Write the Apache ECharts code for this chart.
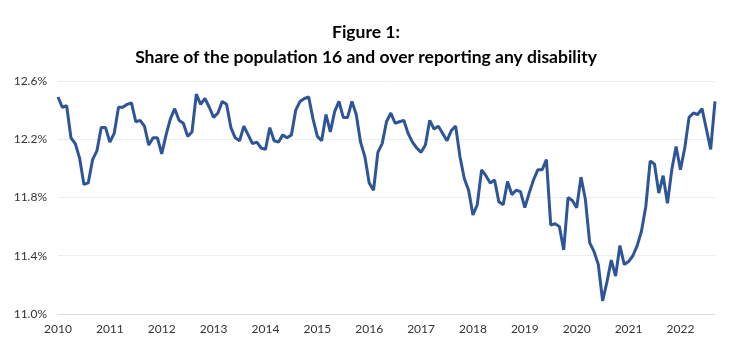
<!DOCTYPE html>
<html>
<head>
<meta charset="utf-8">
<script src="https://cdn.jsdelivr.net/npm/echarts@6/dist/echarts.min.js"></script>
<style>
  html, body { margin: 0; padding: 0; background: #fff; }
  #chart { width: 732px; height: 354px; }
</style>
</head>
<body>
<div id="chart"></div>
<script>
// share of population 16+ reporting any disability, monthly (%)
var v2010 = [12.49, 12.42, 12.43, 12.21, 12.17, 12.07, 11.89, 11.90, 12.06, 12.12, 12.28, 12.28];
var v2011 = [12.18, 12.24, 12.42, 12.42, 12.44, 12.45, 12.32, 12.33, 12.29, 12.16, 12.21, 12.21];
var v2012 = [12.10, 12.23, 12.34, 12.41, 12.33, 12.31, 12.22, 12.25, 12.51, 12.44, 12.48, 12.42];
var v2013 = [12.35, 12.38, 12.46, 12.44, 12.28, 12.21, 12.19, 12.29, 12.23, 12.17, 12.18, 12.14];
var v2014 = [12.13, 12.28, 12.19, 12.18, 12.23, 12.21, 12.23, 12.40, 12.46, 12.48, 12.49, 12.34];
var v2015 = [12.22, 12.19, 12.37, 12.25, 12.39, 12.46, 12.35, 12.35, 12.46, 12.37, 12.18, 12.08];
var v2016 = [11.90, 11.85, 12.11, 12.17, 12.32, 12.38, 12.31, 12.32, 12.33, 12.24, 12.18, 12.14];
var v2017 = [12.11, 12.16, 12.33, 12.27, 12.29, 12.24, 12.19, 12.26, 12.29, 12.08, 11.93, 11.85];
var v2018 = [11.68, 11.75, 11.99, 11.95, 11.90, 11.92, 11.77, 11.75, 11.91, 11.82, 11.85, 11.84];
var v2019 = [11.73, 11.83, 11.92, 11.99, 11.99, 12.06, 11.61, 11.62, 11.60, 11.44, 11.80, 11.78];
var v2020 = [11.73, 11.94, 11.79, 11.49, 11.43, 11.34, 11.09, 11.22, 11.37, 11.26, 11.47, 11.34];
var v2021 = [11.36, 11.40, 11.47, 11.57, 11.74, 12.05, 12.03, 11.83, 11.95, 11.76, 11.99, 12.15];
var v2022 = [11.99, 12.14, 12.35, 12.38, 12.37, 12.41, 12.27, 12.13, 12.46];

var years = [2010, 2011, 2012, 2013, 2014, 2015, 2016, 2017, 2018, 2019, 2020, 2021, 2022];
var yTicks = [11.0, 11.4, 11.8, 12.2, 12.6];

var byYear = [v2010, v2011, v2012, v2013, v2014, v2015, v2016, v2017, v2018, v2019, v2020, v2021, v2022];
var months = [];
var values = [];
byYear.forEach(function (arr, k) {
    arr.forEach(function (v, m) {
        months.push(years[k] + '-' + (m + 1));
        values.push(v);
    });
});

var myChart = echarts.init(document.getElementById('chart'));

var option = {
    animation: false,
    title: {
        text: 'Figure 1:\nShare of the population 16 and over reporting any disability',
        left: 'center',
        top: 15,
        textStyle: {
            fontFamily: 'Lato',
            fontSize: 17.5,
            fontWeight: 'bold',
            color: '#000',
            lineHeight: 25
        }
    },
    grid: {
        left: 58,
        right: 17,
        top: 81,
        bottom: 40
    },
    xAxis: {
        type: 'category',
        boundaryGap: false,
        data: months,
        axisLine: { lineStyle: { color: '#d9d9d9' } },
        axisTick: { show: false },
        axisLabel: {
            interval: function (i) { return i % 12 === 0; },
            formatter: function (val) { return val.split('-')[0]; },
            color: '#333',
            fontFamily: 'Lato',
            fontSize: 12,
            margin: 9
        },
        splitLine: { show: false }
    },
    yAxis: {
        type: 'value',
        min: yTicks[0],
        max: yTicks[yTicks.length - 1],
        interval: 0.4,
        axisLine: { show: false },
        axisTick: { show: false },
        axisLabel: {
            formatter: function (v) { return v.toFixed(1) + '%'; },
            color: '#333',
            fontFamily: 'Lato',
            fontSize: 12,
            margin: 11
        },
        splitLine: { lineStyle: { color: '#ececec' } }
    },
    series: [
        {
            type: 'line',
            data: values,
            showSymbol: false,
            lineStyle: { color: '#2E5597', width: 3 }
        }
    ]
};

myChart.setOption(option);
</script>
</body>
</html>
